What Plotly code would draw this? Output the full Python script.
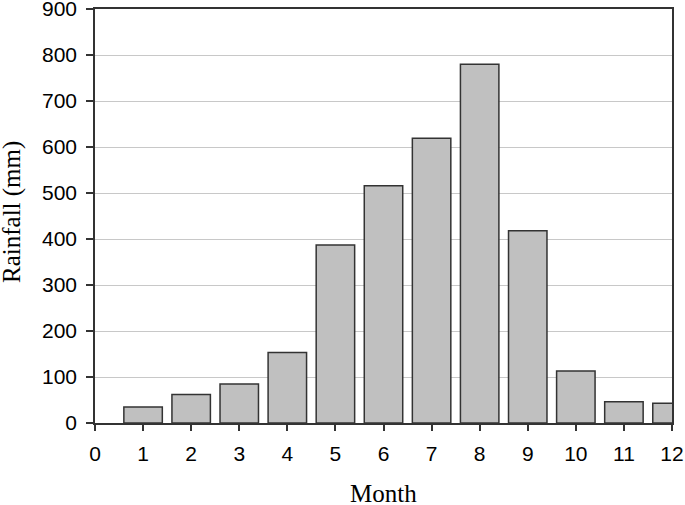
import plotly.graph_objects as go

months = [1, 2, 3, 4, 5, 6, 7, 8, 9, 10, 11, 12]
rainfall = [35, 62, 85, 153, 387, 516, 619, 780, 418, 113, 46, 43]
x_ticks = list(range(0, 13))
y_ticks = list(range(0, 1000, 100))

fig = go.Figure(go.Bar(
    x=months, y=rainfall, width=0.8,
    marker=dict(color="#c0c0c0", line=dict(color="#333333", width=1.5)),
))

title_font = dict(family="Liberation Serif, Times New Roman", size=25, color="black")

fig.update_layout(
    width=685, height=505,
    margin=dict(l=95, r=13, t=9, b=82, autoexpand=False),
    plot_bgcolor="white", paper_bgcolor="white",
    showlegend=False,
    font=dict(family="Liberation Sans, Arial", size=21, color="black"),
    annotations=[
        dict(text="Month", xref="paper", yref="paper", x=0.5, y=0,
             xanchor="center", yanchor="middle", yshift=-70,
             showarrow=False, font=title_font),
        dict(text="Rainfall (mm)", xref="paper", yref="paper", x=0, y=0.5,
             xanchor="center", yanchor="middle", xshift=-83, yshift=4,
             textangle=-90, showarrow=False, font=title_font),
    ],
)
fig.update_xaxes(
    range=[0, 12], tickvals=x_ticks, ticktext=[str(v) for v in x_ticks],
    ticks="outside", ticklen=6, tickwidth=1.5, tickcolor="#333333",
    showline=True, linecolor="#333333", linewidth=1.5, mirror=True,
    showgrid=False, zeroline=False, automargin=False, ticklabeloverflow="allow",
    ticklabelstandoff=5,
)
fig.update_yaxes(
    range=[0, 900], tickvals=y_ticks,
    ticks="outside", ticklen=7, tickwidth=1.5, tickcolor="#333333",
    showline=True, linecolor="#333333", linewidth=1.5, mirror=True,
    showgrid=True, gridcolor="#c8c8c8", gridwidth=1, zeroline=False,
    automargin=False, ticklabeloverflow="allow", ticklabelstandoff=5,
)

fig.write_html("out.html", config={"displayModeBar": False},
               post_script="document.body.style.margin='0';document.body.style.overflow='hidden';")
